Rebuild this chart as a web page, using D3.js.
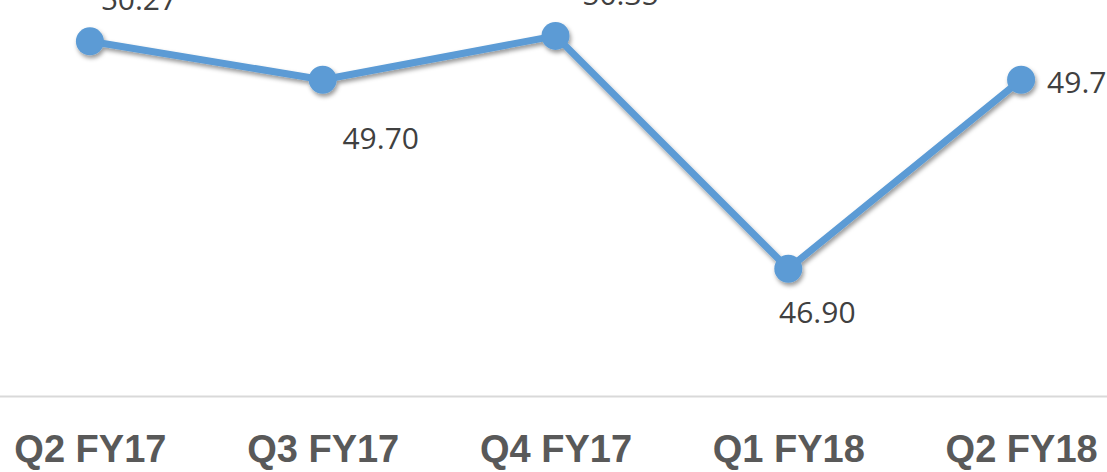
<!DOCTYPE html>
<html>
<head>
<meta charset="utf-8">
<script src="https://cdn.jsdelivr.net/npm/d3@7"></script>
<style>
  html, body { margin: 0; padding: 0; background: #fff; overflow: hidden; }
  #chart { width: 1107px; height: 472px; }
</style>
</head>
<body>
<div id="chart"></div>
<script>
// quarters and values
var quarters = ["Q2 FY17", "Q3 FY17", "Q4 FY17", "Q1 FY18", "Q2 FY18"]
var values = [50.27, 49.70, 50.35, 46.90, 49.70]
var labelText = ["50.27", "49.70", "50.35", "46.90", "49.70"]
// hand placed data labels (dx, dy from the point), like the original
var labelOffsets = [[49, -31, "middle"], [58, 69, "middle"], [65, -31, "middle"], [29, 54, "middle"], [26, 13, "start"]]

function makeLine(parentName){
  width = 1107
  height = 472
  var axisY = 396

  var svg = d3.select("#" + parentName)
    .append("svg")
    .attr("width", width)
    .attr("height", height)

  // the plot area is wider than the window, so it gets cut at both sides
  x = d3.scalePoint()
        .domain(quarters)
        .range([-26.5, 1137.5])
        .padding(0.5)
  y = d3.scaleLinear()
        .domain([45, 51])
        .range([axisY + 1, axisY + 1 - 6 * 67.5])

  var defs = svg.append("defs")
  var f = defs.append("filter").attr("id", "shadow")
    .attr("x", "-20%").attr("y", "-20%").attr("width", "140%").attr("height", "140%")
  f.append("feDropShadow")
    .attr("dx", 1.5).attr("dy", 3)
    .attr("stdDeviation", 2)
    .attr("flood-color", "#000")
    .attr("flood-opacity", 0.4)

  // category axis
  var ax = svg.append("g")
    .attr("transform", `translate(0,${axisY})`)
    .call(d3.axisBottom(x).tickSize(0).tickPadding(0))
  ax.select(".domain")
    .attr("stroke", "#d9d9d9")
    .attr("stroke-width", 2)
  ax.selectAll("text")
    .attr("y", 66)
    .attr("dy", null)
    .attr("fill", "#595959")
    .attr("font-family", "'Liberation Sans', Arial, sans-serif")
    .attr("font-weight", "bold")
    .attr("font-size", 38)

  var pts = quarters.map((q, i) => ({q: q, v: values[i], i: i}))

  var drawLine = d3.line()
    .x(d => x(d.q))
    .y(d => y(d.v))

  var g = svg.append("g").attr("filter", "url(#shadow)")

  g.append("path")
    .datum(pts)
    .attr("fill", "none")
    .attr("stroke", "#5b9bd5")
    .attr("stroke-width", 7)
    .attr("stroke-linejoin", "round")
    .attr("d", drawLine)

  g.selectAll("circle")
    .data(pts)
    .join("circle")
      .attr("cx", d => x(d.q))
      .attr("cy", d => y(d.v))
      .attr("r", 14)
      .attr("fill", "#5b9bd5")

  svg.append("g")
    .selectAll("text")
    .data(pts)
    .join("text")
      .attr("x", d => x(d.q) + labelOffsets[d.i][0])
      .attr("y", d => y(d.v) + labelOffsets[d.i][1])
      .attr("text-anchor", d => labelOffsets[d.i][2])
      .attr("font-family", "'Open Sans', sans-serif")
      .attr("font-size", 30)
      .attr("fill", "#404040")
      .text(d => labelText[d.i])
}

makeLine("chart")
</script>
</body>
</html>
